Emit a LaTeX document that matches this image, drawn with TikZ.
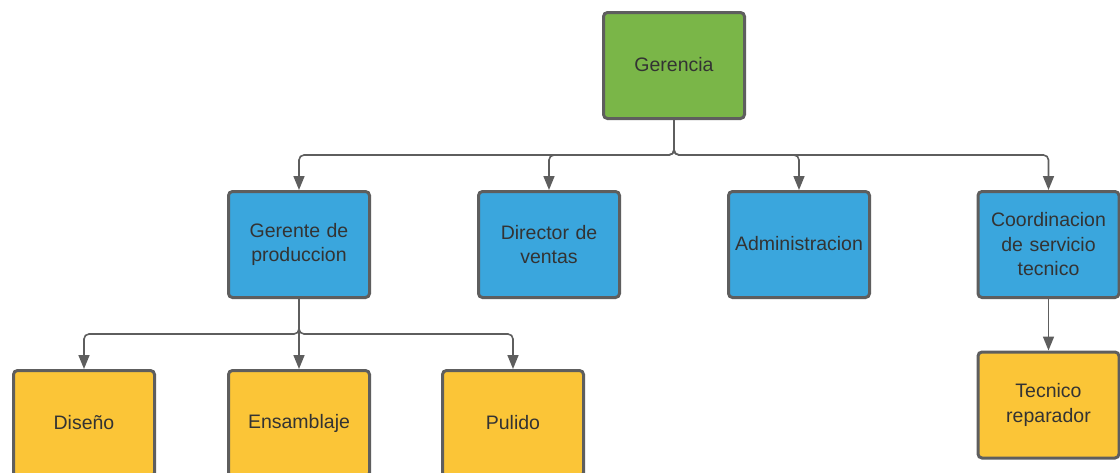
\documentclass[tikz,border=0pt]{standalone}
\usepackage{fontspec}
\setmainfont{Liberation Sans}
\usetikzlibrary{arrows.meta}
\definecolor{lgreen}{HTML}{7AB648}
\definecolor{lblue}{HTML}{3AA6DD}
\definecolor{lyellow}{HTML}{FBC537}
\definecolor{lborder}{HTML}{5E5E5E}
\definecolor{ltext}{HTML}{333333}
\tikzset{
  box/.style={draw=lborder, line width=3pt, rounded corners=4pt, minimum width=141pt, minimum height=106pt,
    text width=135pt, align=center, text=ltext, inner sep=0pt,
    font=\fontsize{19.5}{24.5}\selectfont},
  gbox/.style={box, fill=lgreen},
  bbox/.style={box, fill=lblue},
  ybox/.style={box, fill=lyellow},
  conn/.style={draw=lborder, line width=1.6pt, rounded corners=5pt, -{Triangle[length=14pt,width=11pt]}}
}
\begin{document}
\begin{tikzpicture}[x=1pt,y=-1pt]
\useasboundingbox (0,0) rectangle (1120,472);
\clip (0,0) rectangle (1120,472);
\fill[white] (0,0) rectangle (1120,472);
\node[gbox] (ger) at (674,65.5) {\raisebox{1.5pt}{Gerencia}};
\node[bbox] (prod) at (299,244.5) {\raisebox{2pt}{\parbox{135pt}{\centering Gerente de\\produccion}}};
\node[bbox] (vent) at (549,244.5) {\raisebox{2pt}{\parbox{135pt}{\centering Director de\\ventas}}};
\node[bbox] (adm) at (799,244.5) {\raisebox{2pt}{Administracion}};
\node[bbox] (coord) at (1048.5,244.5) {\raisebox{1.5pt}{\parbox{135pt}{\centering Coordinacion\\de servicio\\tecnico}}};
\node[ybox] (dis) at (84,423.5) {\raisebox{1.5pt}{Diseño}};
\node[ybox] (ens) at (299,423.5) {\raisebox{1.5pt}{Ensamblaje}};
\node[ybox] (pul) at (513,423.5) {\raisebox{1.5pt}{Pulido}};
\node[ybox] (tec) at (1048.5,405) {\raisebox{1.5pt}{\parbox{135pt}{\centering Tecnico\\reparador}}};
\coordinate (b1) at (674,155);
\coordinate (b2) at (299,334);
\foreach \t in {prod,vent,adm,coord}
  \draw[conn] (ger.south) -- (b1) -| (\t.north);
\foreach \t in {dis,ens,pul}
  \draw[conn] (prod.south) -- (b2) -| (\t.north);
\draw[conn] (coord.south) -- (tec.north);
\end{tikzpicture}
\end{document}
